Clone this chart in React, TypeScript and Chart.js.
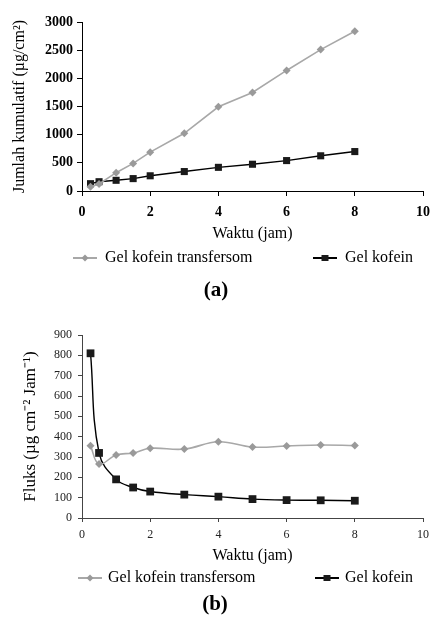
import React, { useEffect, useRef } from "react";
import { Chart, registerables } from "chart.js";

Chart.register(...registerables);

// ---------- data ----------
const times = [0.25, 0.5, 1, 1.5, 2, 3, 4, 5, 6, 7, 8];

const cumulativeTransfersom = [75, 125, 325, 490, 690, 1025, 1495, 1750, 2140, 2510, 2835];
const cumulativeGel = [130, 165, 190, 220, 270, 345, 420, 475, 540, 625, 700];

const fluxTransfersom = [355, 265, 310, 320, 343, 339, 375, 349, 354, 359, 356];
const fluxGel = [810, 320, 190, 150, 130, 115, 105, 93, 88, 87, 85];

const seriesNames = ["Gel kofein transfersom", "Gel kofein"];
const xTitle = "Waktu (jam)";
const yTitleA = "Jumlah kumulatif (µg/cm²)";
const yTitleB = "Fluks (µg cm⁻² Jam⁻¹)";
const captions = ["(a)", "(b)"];

const SERIF = '"Liberation Serif", "Times New Roman", serif';
const GRAY_LINE = "#a8a8a8";
const GRAY_MARK = "#9a9a9a";
const BLACK = "#1a1a1a";

const toPoints = (ys: number[]) => ys.map((y, i) => ({ x: times[i], y }));
const plainTick = (v: any) => String(v);

// custom legend + caption drawn on the chart canvas
const legendPlugin = {
  id: "customLegend",
  afterDraw(chart: any, _args: any, opts: any) {
    const { ctx, chartArea } = chart;
    ctx.save();
    ctx.textBaseline = "middle";
    ctx.textAlign = "left";
    ctx.font = `16px ${SERIF}`;
    chart.data.datasets.forEach((ds: any, i: number) => {
      const x0 = chartArea.left + opts.offsets[i];
      const y = opts.y;
      ctx.strokeStyle = ds.borderColor;
      ctx.lineWidth = 2;
      ctx.beginPath();
      ctx.moveTo(x0, y);
      ctx.lineTo(x0 + 24, y);
      ctx.stroke();
      ctx.fillStyle = ds.pointBackgroundColor;
      const cx = x0 + 12;
      if (ds.pointStyle === "rectRot") {
        ctx.beginPath();
        ctx.moveTo(cx, y - 3.5);
        ctx.lineTo(cx + 3.5, y);
        ctx.lineTo(cx, y + 3.5);
        ctx.lineTo(cx - 3.5, y);
        ctx.closePath();
        ctx.fill();
      } else {
        ctx.fillRect(cx - 3.5, y - 3, 7, 6);
      }
      ctx.fillStyle = "#000";
      ctx.fillText(ds.label, x0 + opts.textGap, y);
    });
    ctx.font = `bold 21px ${SERIF}`;
    ctx.textAlign = "center";
    ctx.fillStyle = "#000";
    ctx.fillText(opts.caption, opts.captionX, opts.captionY);
    ctx.restore();
  },
};

function makeDatasets(a: number[], b: number[], smooth: boolean, sqRadius: number) {
  return [
    {
      label: seriesNames[0],
      data: toPoints(a),
      borderColor: GRAY_LINE,
      backgroundColor: GRAY_MARK,
      pointBackgroundColor: GRAY_MARK,
      pointBorderColor: GRAY_MARK,
      pointBorderWidth: 0,
      pointStyle: "rectRot",
      pointRadius: 4,
      borderWidth: 1.6,
      tension: smooth ? 0.4 : 0,
    },
    {
      label: seriesNames[1],
      data: toPoints(b),
      borderColor: "#000",
      backgroundColor: BLACK,
      pointBackgroundColor: BLACK,
      pointBorderColor: BLACK,
      pointBorderWidth: 0,
      pointStyle: "rect",
      pointRadius: sqRadius,
      borderWidth: 1.4,
      tension: smooth ? 0.4 : 0,
    },
  ];
}

const fixX = (h: number) => (s: any) => {
  s.height = h;
  s.paddingLeft = 0;
  s.paddingRight = 0;
};

function ChartA() {
  const ref = useRef<HTMLCanvasElement | null>(null);
  useEffect(() => {
    const chart = new Chart(ref.current as HTMLCanvasElement, {
      type: "line",
      data: { datasets: makeDatasets(cumulativeTransfersom, cumulativeGel, false, 5) as any },
      options: {
        responsive: false,
        animation: false,
        layout: { padding: { left: 0, top: 22, right: 9, bottom: 67 } },
        plugins: {
          legend: { display: false },
          tooltip: { enabled: false },
          customLegend: { offsets: [-9, 231], textGap: 32, y: 258, caption: captions[0], captionX: 216, captionY: 291 },
        } as any,
        scales: {
          x: {
            type: "linear",
            min: 0,
            max: 10,
            afterFit: fixX(52),
            grid: { drawOnChartArea: false, drawTicks: true, tickLength: 5, color: "#000" },
            border: { color: "#000", width: 1 },
            ticks: { stepSize: 2, padding: 8, maxRotation: 0, color: "#000", callback: plainTick, font: { family: SERIF, size: 14, weight: "bold" } },
            title: { display: true, text: xTitle, color: "#000", font: { family: SERIF, size: 16 }, padding: { top: 0, bottom: 0 } },
          },
          y: {
            type: "linear",
            min: 0,
            max: 3000,
            afterFit: (s: any) => { s.width = 82; },
            grid: { drawOnChartArea: false, drawTicks: true, tickLength: 5, color: "#000" },
            border: { color: "#000", width: 1 },
            ticks: { stepSize: 500, padding: 4, color: "#000", callback: plainTick, font: { family: SERIF, size: 14, weight: "bold" } },
            title: { display: true, text: yTitleA, color: "#000", font: { family: SERIF, size: 16 }, padding: { top: 10, bottom: 0 } },
          },
        },
      } as any,
      plugins: [legendPlugin as any],
    });
    return () => chart.destroy();
  }, []);
  return <canvas ref={ref} width={432} height={310} style={{ display: "block" }} />;
}

function ChartB() {
  const ref = useRef<HTMLCanvasElement | null>(null);
  useEffect(() => {
    const chart = new Chart(ref.current as HTMLCanvasElement, {
      type: "line",
      data: { datasets: makeDatasets(fluxTransfersom, fluxGel, true, 5.5) as any },
      options: {
        responsive: false,
        animation: false,
        layout: { padding: { left: 0, top: 25, right: 9, bottom: 56 } },
        plugins: {
          legend: { display: false },
          tooltip: { enabled: false },
          customLegend: { offsets: [-4, 233], textGap: 30, y: 268, caption: captions[1], captionX: 215, captionY: 295 },
        } as any,
        scales: {
          x: {
            type: "linear",
            min: 0,
            max: 10,
            afterFit: fixX(47),
            grid: { drawOnChartArea: false, drawTicks: true, tickLength: 4, color: "#444" },
            border: { color: "#444", width: 1 },
            ticks: { stepSize: 2, padding: 6, maxRotation: 0, color: "#222", callback: plainTick, font: { family: SERIF, size: 12 } },
            title: { display: true, text: xTitle, color: "#000", font: { family: SERIF, size: 16 }, padding: { top: 0, bottom: 0 } },
          },
          y: {
            type: "linear",
            min: 0,
            max: 900,
            afterFit: (s: any) => { s.width = 82; },
            grid: { drawOnChartArea: false, drawTicks: true, tickLength: 4, color: "#444" },
            border: { color: "#444", width: 1 },
            ticks: { stepSize: 100, padding: 6, color: "#222", callback: plainTick, font: { family: SERIF, size: 12 } },
            title: { display: true, text: yTitleB, color: "#000", font: { family: SERIF, size: 17 }, padding: { top: 20, bottom: 0 } },
          },
        },
      } as any,
      plugins: [legendPlugin as any],
    });
    return () => chart.destroy();
  }, []);
  return <canvas ref={ref} width={432} height={311} style={{ display: "block" }} />;
}

export default function App() {
  return (
    <div style={{ position: "absolute", left: 0, top: 0, width: 432, height: 621, background: "#fff" }}>
      <ChartA />
      <ChartB />
    </div>
  );
}
